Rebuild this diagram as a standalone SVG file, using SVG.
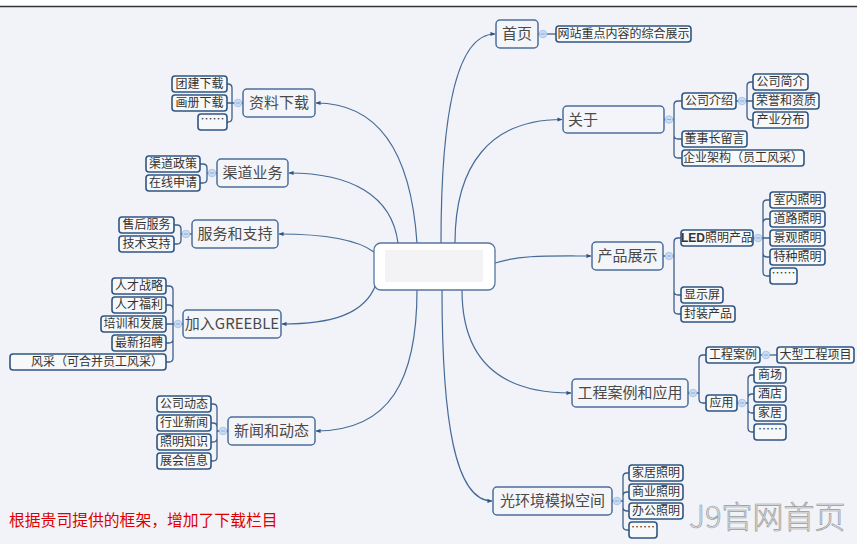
<svg xmlns="http://www.w3.org/2000/svg" xmlns:xlink="http://www.w3.org/1999/xlink" width="857" height="544" viewBox="0 0 857 544">
<style>
.bg{fill:#f1f3f8}
.n0{fill:#ffffff;stroke:#5577a0;stroke-width:1.3}
.n1{fill:#f4f5f8;stroke:#4b6f9b;stroke-width:1.5}
.n2{fill:#f7f8fa;stroke:#2f5583;stroke-width:1.6}
.t1{font-family:"Noto Sans CJK SC","Noto Sans",sans-serif;font-size:15px;fill:#4a4a4a;text-anchor:middle}
.t2{font-family:"Noto Sans CJK SC","Noto Sans",sans-serif;font-size:12px;fill:#333333;text-anchor:middle}
.c{fill:none;stroke:#476b97;stroke-width:1.2}
.b{fill:none;stroke:#3d5f8a;stroke-width:1.3}
</style>
<defs>
<marker id="arr" viewBox="0 0 6 6" refX="5.5" refY="3" markerWidth="5" markerHeight="5" markerUnits="userSpaceOnUse" orient="auto">
<path d="M0,0.5 L6,3 L0,5.5 z" fill="#2f5583"/>
</marker>
<g id="k">
<circle cx="0" cy="0" r="3.8" fill="#c9dbf3" stroke="#a3bee2" stroke-width="0.8"/>
<line x1="-2" y1="0" x2="2" y2="0" stroke="#7f9fcb" stroke-width="0.8"/>
</g>
</defs>
<rect class="bg" x="0" y="0" width="857" height="544"/>
<rect x="0" y="0" width="857" height="6" fill="#ffffff"/>
<line x1="0" y1="6.5" x2="857" y2="6.5" stroke="#333333" stroke-width="1.5"/>

<g id="connectors">
<path class="c" marker-end="url(#arr)" d="M441,243 C441,120 455,34 495,34"/>
<path class="c" marker-end="url(#arr)" d="M455,243 C455,165 490,119.5 562,119.5"/>
<path class="c" marker-end="url(#arr)" d="M495,263 C520,255 545,256 591,256"/>
<path class="c" marker-end="url(#arr)" d="M462,290 C462,360 500,393 571,393"/>
<path class="c" marker-end="url(#arr)" d="M442,290 C442,420 455,501 492,501"/>
<path class="c" marker-end="url(#arr)" d="M417,290 C417,380 390,431 316,431"/>
<path class="c" marker-end="url(#arr)" d="M376,284 C365,315 330,324 282,324"/>
<path class="c" marker-end="url(#arr)" d="M374,252 C355,238 320,234 279,234"/>
<path class="c" marker-end="url(#arr)" d="M398,243 C392,195 350,173 289,173"/>
<path class="c" marker-end="url(#arr)" d="M417,243 C410,140 370,103 316,103"/>

<path class="b" d="M538,34 H556"/>
<path class="b" d="M664,119.5 H674 V105 Q674,101 678,101 H682 M674,119.5 V135 Q674,139 678,139 H682 M674,119.5 V154 Q674,158 678,158 H682"/>
<path class="b" d="M736,101 H753 M747,101 V86 Q747,82 751,82 H753 M747,101 V116 Q747,120 751,120 H753"/>
<path class="b" d="M663,256 H674 V242 Q674,238 678,238 H681 M674,256 V291 Q674,295 678,295 H681 M674,256 V310 Q674,314 678,314 H681"/>
<path class="b" d="M753,238 H770 M763,238 V204 Q763,200 767,200 H770 M763,238 V223 Q763,219 767,219 H770 M763,238 V253 Q763,257 767,257 H770 M763,238 V272 Q763,276 767,276 H770"/>
<path class="b" d="M688,393 H699 V359 Q699,355 703,355 H706 M699,393 V399 Q699,403 703,403 H706"/>
<path class="b" d="M760,355 H777"/>
<path class="b" d="M737,403 H748 V379 Q748,375 752,375 H754 M748,403 V398 Q748,394 752,394 H754 M748,403 V409 Q748,413 752,413 H754 M748,403 V428 Q748,432 752,432 H754"/>
<path class="b" d="M612,501 H623 V477 Q623,473 627,473 H629 M623,501 V496 Q623,492 627,492 H629 M623,501 V507 Q623,511 627,511 H629 M623,501 V526 Q623,530 627,530 H629"/>
<path class="b" d="M243,103 H227 M232,103 V88 Q232,84 228,84 H227 M232,103 V118 Q232,122 228,122 H227"/>
<path class="b" d="M217,173 H207 V168 Q207,164 203,164 H200 M207,173 V179 Q207,183 203,183 H200"/>
<path class="b" d="M192,234 H181 V229 Q181,225 177,225 H174 M181,234 V240 Q181,244 177,244 H174"/>
<path class="b" d="M183,324 H166 M173,324 V290 Q173,286 169,286 H166 M173,324 V309 Q173,305 169,305 H166 M173,324 V339 Q173,343 169,343 H166 M173,324 V358 Q173,362 169,362 H166"/>
<path class="b" d="M228,431 H217 V408 Q217,404 213,404 H211 M217,431 V427 Q217,423 213,423 H211 M217,431 V438 Q217,442 213,442 H211 M217,431 V457 Q217,461 213,461 H211"/>

<use xlink:href="#k" x="543" y="34"/>
<use xlink:href="#k" x="669" y="119.5"/>
<use xlink:href="#k" x="742" y="101"/>
<use xlink:href="#k" x="669" y="256"/>
<use xlink:href="#k" x="758" y="238"/>
<use xlink:href="#k" x="693" y="393"/>
<use xlink:href="#k" x="766" y="355"/>
<use xlink:href="#k" x="742" y="403"/>
<use xlink:href="#k" x="617" y="501"/>
<use xlink:href="#k" x="238" y="103"/>
<use xlink:href="#k" x="212" y="173"/>
<use xlink:href="#k" x="186" y="234"/>
<use xlink:href="#k" x="178" y="324"/>
<use xlink:href="#k" x="223" y="431"/>
</g>

<g id="central">
<rect class="n0" x="374" y="243" width="121" height="47" rx="7"/>
<rect x="385" y="250" width="98" height="32" fill="#f3f3f5"/>
</g>

<g id="home"><rect class="n1" x="496" y="20" width="42" height="28" rx="4"/><text class="t1" x="517" y="39.4">首页</text></g>
<g id="home-1"><rect class="n2" x="556" y="26" width="135" height="16" rx="3"/><text class="t2" x="623.5" y="38.3">网站重点内容的综合展示</text></g>

<g id="about"><rect class="n1" x="563" y="106" width="101" height="27" rx="4"/><text class="t1" x="568" y="125" style="text-anchor:start">关于</text></g>
<g id="about-1"><rect class="n2" x="682" y="93" width="54" height="16" rx="3"/><text class="t2" x="709" y="105.3">公司介绍</text></g>
<g id="about-1-1"><rect class="n2" x="753" y="74" width="55" height="16" rx="3"/><text class="t2" x="780.5" y="86.3">公司简介</text></g>
<g id="about-1-2"><rect class="n2" x="753" y="93" width="66" height="16" rx="3"/><text class="t2" x="786" y="105.3">荣誉和资质</text></g>
<g id="about-1-3"><rect class="n2" x="753" y="112" width="55" height="16" rx="3"/><text class="t2" x="780.5" y="124.3">产业分布</text></g>
<g id="about-2"><rect class="n2" x="682" y="131" width="65" height="16" rx="3"/><text class="t2" x="714.5" y="143.3">董事长留言</text></g>
<g id="about-3"><rect class="n2" x="682" y="150" width="122" height="16" rx="3"/><text class="t2" x="743" y="162.3">企业架构（员工风采）</text></g>

<g id="products"><rect class="n1" x="592" y="242" width="71" height="28" rx="4"/><text class="t1" x="627.5" y="261.4">产品展示</text></g>
<g id="led"><rect class="n2" x="681" y="230" width="72" height="16" rx="3"/><text class="t2" x="717" y="242.3"><tspan font-weight="bold" font-family="'Liberation Sans',sans-serif">LED</tspan>照明产品</text></g>
<g id="led-1"><rect class="n2" x="770" y="192" width="55" height="16" rx="3"/><text class="t2" x="797.5" y="204.3">室内照明</text></g>
<g id="led-2"><rect class="n2" x="770" y="211" width="55" height="16" rx="3"/><text class="t2" x="797.5" y="223.3">道路照明</text></g>
<g id="led-3"><rect class="n2" x="770" y="230" width="55" height="16" rx="3"/><text class="t2" x="797.5" y="242.3">景观照明</text></g>
<g id="led-4"><rect class="n2" x="770" y="249" width="55" height="16" rx="3"/><text class="t2" x="797.5" y="261.3">特种照明</text></g>
<g id="led-5"><rect class="n2" x="770" y="268" width="27" height="16" rx="3"/><text class="t2" x="783.5" y="278">……</text></g>
<g id="display"><rect class="n2" x="681" y="287" width="42" height="16" rx="3"/><text class="t2" x="702" y="299.3">显示屏</text></g>
<g id="package"><rect class="n2" x="681" y="306" width="54" height="16" rx="3"/><text class="t2" x="708" y="318.3">封装产品</text></g>

<g id="cases"><rect class="n1" x="572" y="379" width="116" height="28" rx="4"/><text class="t1" x="630" y="398.4">工程案例和应用</text></g>
<g id="cases-1"><rect class="n2" x="706" y="347" width="54" height="16" rx="3"/><text class="t2" x="733" y="359.3">工程案例</text></g>
<g id="cases-1-1"><rect class="n2" x="777" y="347" width="77" height="16" rx="3"/><text class="t2" x="815.5" y="359.3">大型工程项目</text></g>
<g id="apply"><rect class="n2" x="706" y="395" width="31" height="16" rx="3"/><text class="t2" x="721.5" y="407.3">应用</text></g>
<g id="apply-1"><rect class="n2" x="754" y="367" width="32" height="16" rx="3"/><text class="t2" x="770" y="379.3">商场</text></g>
<g id="apply-2"><rect class="n2" x="754" y="386" width="32" height="16" rx="3"/><text class="t2" x="770" y="398.3">酒店</text></g>
<g id="apply-3"><rect class="n2" x="754" y="405" width="32" height="16" rx="3"/><text class="t2" x="770" y="417.3">家居</text></g>
<g id="apply-4"><rect class="n2" x="754" y="424" width="32" height="16" rx="3"/><text class="t2" x="770" y="434">……</text></g>

<g id="lightspace"><rect class="n1" x="493" y="487" width="119" height="28" rx="4"/><text class="t1" x="552.5" y="506.4">光环境模拟空间</text></g>
<g id="ls-1"><rect class="n2" x="629" y="465" width="54" height="16" rx="3"/><text class="t2" x="656" y="477.3">家居照明</text></g>
<g id="ls-2"><rect class="n2" x="629" y="484" width="54" height="16" rx="3"/><text class="t2" x="656" y="496.3">商业照明</text></g>
<g id="ls-3"><rect class="n2" x="629" y="503" width="54" height="16" rx="3"/><text class="t2" x="656" y="515.3">办公照明</text></g>
<g id="ls-4"><rect class="n2" x="629" y="522" width="28" height="16" rx="3"/><text class="t2" x="643" y="532">……</text></g>

<g id="download"><rect class="n1" x="243" y="89" width="72" height="28" rx="4"/><text class="t1" x="279" y="108.4">资料下载</text></g>
<g id="dl-1"><rect class="n2" x="172" y="76" width="55" height="16" rx="3"/><text class="t2" x="199.5" y="88.3">团建下载</text></g>
<g id="dl-2"><rect class="n2" x="172" y="95" width="55" height="16" rx="3"/><text class="t2" x="199.5" y="107.3">画册下载</text></g>
<g id="dl-3"><rect class="n2" x="198" y="114" width="29" height="16" rx="3"/><text class="t2" x="212.5" y="124">……</text></g>

<g id="channel"><rect class="n1" x="217" y="159" width="71" height="28" rx="4"/><text class="t1" x="252.5" y="178.4">渠道业务</text></g>
<g id="ch-1"><rect class="n2" x="146" y="156" width="54" height="16" rx="3"/><text class="t2" x="173" y="168.3">渠道政策</text></g>
<g id="ch-2"><rect class="n2" x="146" y="175" width="54" height="16" rx="3"/><text class="t2" x="173" y="187.3">在线申请</text></g>

<g id="service"><rect class="n1" x="192" y="220" width="86" height="28" rx="4"/><text class="t1" x="235" y="239.4">服务和支持</text></g>
<g id="sv-1"><rect class="n2" x="119" y="217" width="55" height="16" rx="3"/><text class="t2" x="146.5" y="229.3">售后服务</text></g>
<g id="sv-2"><rect class="n2" x="119" y="236" width="55" height="16" rx="3"/><text class="t2" x="146.5" y="248.3">技术支持</text></g>

<g id="join"><rect class="n1" x="183" y="310" width="98" height="28" rx="4"/><text class="t1" x="232" y="329.4">加入GREEBLE</text></g>
<g id="jn-1"><rect class="n2" x="112" y="278" width="54" height="16" rx="3"/><text class="t2" x="139" y="290.3">人才战略</text></g>
<g id="jn-2"><rect class="n2" x="112" y="297" width="54" height="16" rx="3"/><text class="t2" x="139" y="309.3">人才福利</text></g>
<g id="jn-3"><rect class="n2" x="101" y="316" width="65" height="16" rx="3"/><text class="t2" x="133.5" y="328.3">培训和发展</text></g>
<g id="jn-4"><rect class="n2" x="112" y="335" width="54" height="16" rx="3"/><text class="t2" x="139" y="347.3">最新招聘</text></g>
<g id="jn-5"><rect class="n2" x="10" y="354" width="156" height="16" rx="3"/><text class="t2" x="163" y="366.3" style="text-anchor:end">风采（可合并员工风采）</text></g>

<g id="news"><rect class="n1" x="228" y="417" width="87" height="28" rx="4"/><text class="t1" x="271.5" y="436.4">新闻和动态</text></g>
<g id="nw-1"><rect class="n2" x="157" y="396" width="54" height="16" rx="3"/><text class="t2" x="184" y="408.3">公司动态</text></g>
<g id="nw-2"><rect class="n2" x="157" y="415" width="54" height="16" rx="3"/><text class="t2" x="184" y="427.3">行业新闻</text></g>
<g id="nw-3"><rect class="n2" x="157" y="434" width="54" height="16" rx="3"/><text class="t2" x="184" y="446.3">照明知识</text></g>
<g id="nw-4"><rect class="n2" x="157" y="453" width="54" height="16" rx="3"/><text class="t2" x="184" y="465.3">展会信息</text></g>

<text x="9" y="526" font-family="'Noto Sans CJK SC',sans-serif" font-size="15.8" fill="#dd0000">根据贵司提供的框架，增加了下载栏目</text>
<text x="689" y="528" font-family="'Noto Sans CJK SC',sans-serif" font-size="31" font-weight="300" fill="#e4e4e4" fill-opacity="0.8" stroke="#9a9a9a" stroke-width="0.7">J9官网首页</text>
</svg>
